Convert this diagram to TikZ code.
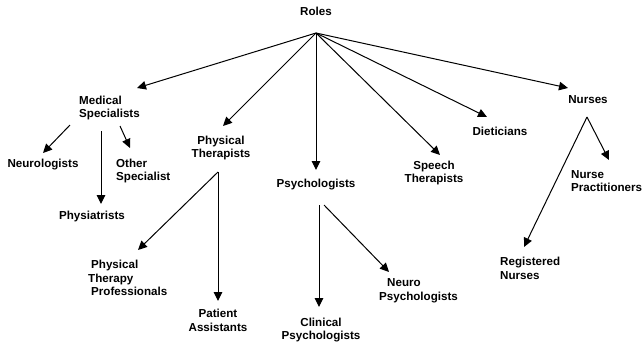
\documentclass[tikz,border=0pt]{standalone}
\usepackage{fontspec}
\setmainfont{Liberation Sans}
\usetikzlibrary{arrows.meta,calc}
\begin{document}
\begin{tikzpicture}[x=1pt,y=-1pt,
  lbl/.style={font=\fontsize{11.6}{13.8}\selectfont\bfseries, inner sep=0pt, align=left},
  lblc/.style={lbl, align=center},
  arr/.style={line width=1pt, -{Triangle[length=9pt,width=8.5pt]}}]
\useasboundingbox[fill=white] (0,0) rectangle (644,348);
% nodes
\node[lbl] (roles) at (316,11) {Roles};
\coordinate (apex) at (316,33);
\node[lbl,anchor=west] (med) at (79,108) {Medical\\Specialists};
\node[lbl] (neuro) at (43,165) {Neurologists};
\node[lbl,anchor=west] (other) at (116,171) {Other\\Specialist};
\node[lbl] (physiat) at (92,216) {Physiatrists};
\node[lblc] (pt) at (221,148) {Physical\\Therapists};
\node[lbl,anchor=west] (ptp) at (88,278) {\hspace*{3pt}Physical\\Therapy\\\hspace*{3pt}Professionals};
\node[lblc] (pa) at (218,320) {Patient\\Assistants};
\node[lbl] (psy) at (316,185) {Psychologists};
\node[lblc] (clin) at (321,330) {Clinical\\Psychologists};
\node[lbl,anchor=west] (npsy) at (379,291) {\hspace*{8pt}Neuro\\Psychologists};
\node[lblc] (speech) at (434,173) {Speech\\Therapists};
\node[lbl] (diet) at (500,131) {Dieticians};
\node[lbl] (nurses) at (588,100) {Nurses};
\node[lbl,anchor=west] (np) at (571,181) {Nurse\\Practitioners};
\node[lbl,anchor=west] (rn) at (500,268) {Registered\\Nurses};
% connectors from Roles
\draw[arr] (apex) -- ($(med.west)+(58,-20)$);
\draw[arr] (apex) -- ($(pt)+(2,-22)$);
\draw[arr] (apex) -- ($(psy)+(0,-15)$);
\draw[arr] (apex) -- ($(speech)+(6,-18)$);
\draw[arr] (apex) -- ($(diet)+(-13,-14)$);
\draw[arr] (apex) -- ($(nurses)+(-20,-12)$);
% medical specialists
\draw[arr] ($(med.west)+(-9,17)$) -- ($(neuro)+(0,-12)$);
\draw[arr] ($(med.west)+(22,23)$) -- ($(physiat)+(9,-12)$);
\draw[arr] ($(med.west)+(41,18)$) -- ($(other.west)+(14,-23)$);
% physical therapists
\draw[arr] ($(pt)+(-3,24)$) -- ($(ptp.west)+(50,-28)$);
\draw[arr] ($(pt)+(-3,24)$) -- ($(pa)+(0,-19)$);
% psychologists
\draw[arr] ($(psy)+(3,20)$) -- ($(clin)+(-2,-23)$);
\draw[arr] ($(psy)+(8,20)$) -- ($(npsy.west)+(10,-19)$);
% nurses
\draw[arr] ($(nurses)+(-1,17)$) -- ($(np.west)+(38,-21)$);
\draw[arr] ($(nurses)+(-1,17)$) -- ($(rn.west)+(24,-21)$);
\end{tikzpicture}
\end{document}
